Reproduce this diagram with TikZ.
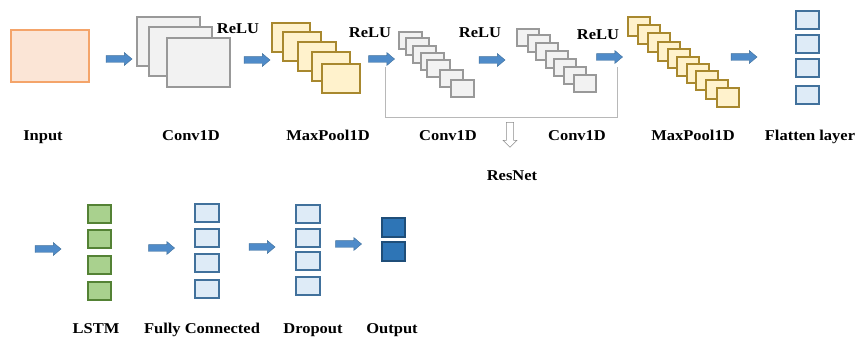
\documentclass[tikz,border=0pt]{standalone}
\usepackage{fontspec}
\setmainfont{Liberation Serif}[FakeStretch=1.1]
\usepackage{tikz}
\usetikzlibrary{shapes.arrows}

\definecolor{inpfill}{HTML}{FBE5D6}
\definecolor{inpdraw}{HTML}{F4A46A}
\definecolor{cvfill}{HTML}{F2F2F2}
\definecolor{cvdraw}{HTML}{999999}
\definecolor{mpfill}{HTML}{FFF2CC}
\definecolor{mpdraw}{HTML}{A8882E}
\definecolor{bxfill}{HTML}{DEEBF7}
\definecolor{bxdraw}{HTML}{41719C}
\definecolor{lsfill}{HTML}{A9D18E}
\definecolor{lsdraw}{HTML}{548235}
\definecolor{oufill}{HTML}{2E75B6}
\definecolor{oudraw}{HTML}{1F4E79}
\definecolor{arfill}{HTML}{4F8BC9}

\tikzset{
  cell/.style={rectangle,anchor=north west,inner sep=0,outer sep=0,line width=1.2pt},
  blockarrow/.style={single arrow,fill=arfill,draw=bxdraw,line width=0.4pt,
    inner sep=3.2pt,minimum width=13,minimum height=26,single arrow head extend=3pt,
    single arrow tip angle=80},
  lbl/.style={anchor=base,font=\fontsize{15}{17}\selectfont\bfseries},
}

\begin{document}
\begin{tikzpicture}[x=1pt,y=-1pt]
\useasboundingbox (0,0) rectangle (857,338);
%%%  input
\node[cell,draw=inpdraw,fill=inpfill,minimum width=78,minimum height=52] (inp) at (11,30) {};
%%%  conv1d big stack
\foreach \x/\y [count=\i] in {137/17,149/27,167/38}{%
	\node[cell,draw=cvdraw,fill=cvfill,minimum width=63,minimum height=49] (cv;\i) at (\x,\y) {};
}
%%%  maxpool stack 1
\foreach \x/\y [count=\i] in {272/23,283/32,298/42,312/52,322/64}{%
	\node[cell,draw=mpdraw,fill=mpfill,minimum width=38,minimum height=29] (mp;\i) at (\x,\y) {};
}
%%%  resnet conv stacks
\foreach \x/\y [count=\i] in {399/32,406/38,413/46,421/53,427/60,440/70,451/80}{%
	\node[cell,draw=cvdraw,fill=cvfill,minimum width=23,minimum height=17] (ra;\i) at (\x,\y) {};
}
\foreach \x/\y [count=\i] in {517/29,528/35,536/43,546/51,554/59,564/67,574/75}{%
	\node[cell,draw=cvdraw,fill=cvfill,minimum width=22,minimum height=17] (rb;\i) at (\x,\y) {};
}
%%%  maxpool stack 2
\foreach \x/\y [count=\i] in {628/17,638/25,648/33,658/42,668/49,677/57,687/64,696/71,706/80,717/88}{%
	\node[cell,draw=mpdraw,fill=mpfill,minimum width=22,minimum height=19] (mq;\i) at (\x,\y) {};
}
%%%  column layers
\foreach \y [count=\i] in {11,35,59,86}{%
	\node[cell,draw=bxdraw,fill=bxfill,minimum width=23,minimum height=18] (fl;\i) at (796,\y) {};
}
\foreach \y [count=\i] in {205,230,256,282}{%
	\node[cell,draw=lsdraw,fill=lsfill,minimum width=23,minimum height=18] (ls;\i) at (88,\y) {};
}
\foreach \y [count=\i] in {204,229,254,280}{%
	\node[cell,draw=bxdraw,fill=bxfill,minimum width=24,minimum height=18] (fc;\i) at (195,\y) {};
}
\foreach \y [count=\i] in {205,229,252,277}{%
	\node[cell,draw=bxdraw,fill=bxfill,minimum width=24,minimum height=18] (dr;\i) at (296,\y) {};
}
\foreach \y [count=\i] in {218,242}{%
	\node[cell,draw=oudraw,fill=oufill,minimum width=23,minimum height=19] (ou;\i) at (382,\y) {};
}

%%%%%%%%% arrows %%%%%%%%
\foreach \x/\y [count=\i] in {117/59,255/60,379.5/59,490/60,607.5/57,742/57,46/249,159.5/248,260/247,346.5/244}{%
	\node[blockarrow] (ar;\i) at (\x,\y) {};
}
%%%  resnet bracket
\coordinate (rs;l) at (385,67);
\coordinate (rs;r) at (617,67);
\draw[line width=1pt,black!28] (rs;l) -- (385,117) -- (617,117) -- (rs;r);
\node[single arrow,draw=black!45,line width=0.5pt,inner sep=2.8pt,minimum width=14,
	minimum height=25,single arrow head extend=3pt,shape border rotate=270] (rs;dn) at (510,133) {};

%%%%%%%%% labels %%%%%%%%
\node[lbl] (t;relu1) at (238,33) {ReLU};
\node[lbl] (t;relu2) at (370,37) {ReLU};
\node[lbl] (t;relu3) at (480,37) {ReLU};
\node[lbl] (t;relu4) at (598,39) {ReLU};
\node[lbl] (t;inp) at (43,140) {Input};
\node[lbl] (t;cv) at (191,140) {Conv1D};
\node[lbl] (t;mp) at (328,140) {MaxPool1D};
\node[lbl] (t;ra) at (448,140) {Conv1D};
\node[lbl] (t;rb) at (577,140) {Conv1D};
\node[lbl] (t;mq) at (693,140) {MaxPool1D};
\node[lbl] (t;fl) at (810,140) {Flatten layer};
\node[lbl] (t;rs) at (512,180) {ResNet};
\node[lbl] (t;ls) at (96,333) {LSTM};
\node[lbl] (t;fc) at (202,333) {Fully Connected};
\node[lbl] (t;dr) at (313,333) {Dropout};
\node[lbl] (t;ou) at (392,333) {Output};
\end{tikzpicture}
\end{document}
